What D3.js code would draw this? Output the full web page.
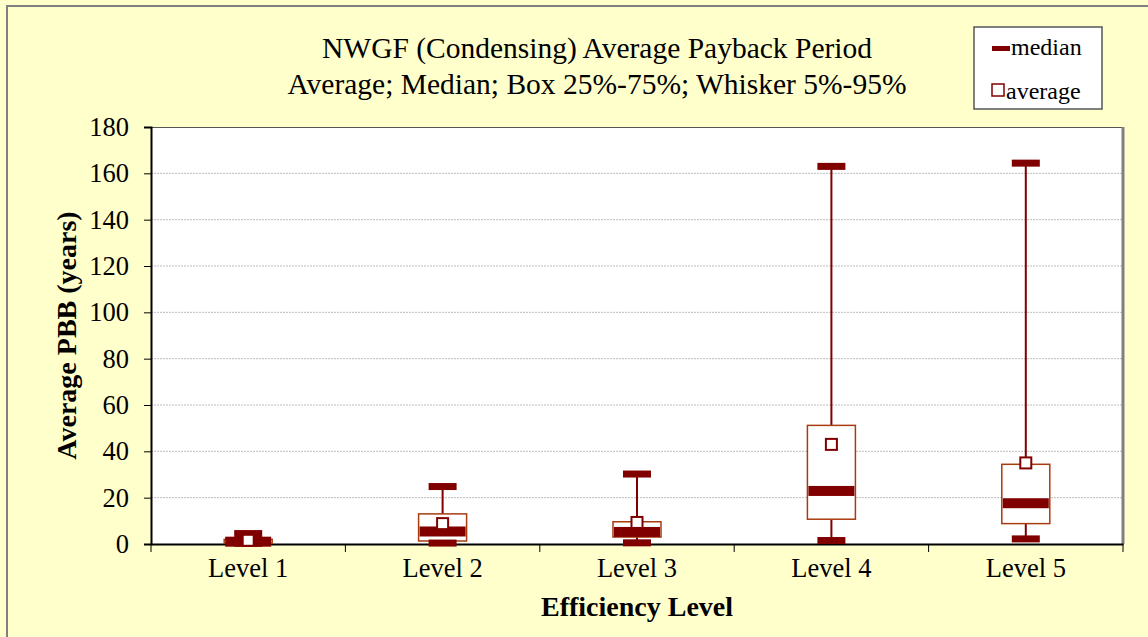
<!DOCTYPE html>
<html lang="en">
<head>
<meta charset="utf-8">
<title>NWGF (Condensing) Average Payback Period</title>
<style>
  body { margin: 0; background: #FFFFCC; }
  text { font-family: "Liberation Serif", "Times New Roman", serif; fill: #000; }
  .title { font-size: 29.5px; text-anchor: middle; }
  .axis-title { font-size: 28px; font-weight: bold; text-anchor: middle; }
  .axis text { font-size: 26.5px; }
  .axis path, .axis line { stroke: #000; }
  .grid line { stroke: #bdbdbd; stroke-dasharray: 2,1; }
  .legend text { font-size: 24px; }
</style>
</head>
<body>
<div id="chart"></div>
<script src="https://cdn.jsdelivr.net/npm/d3@7"></script>
<script>

var levels = ["Level 1", "Level 2", "Level 3", "Level 4", "Level 5"];
var p5     = [0.3, 0.4, 0.5, 1.5, 2.2];
var p25    = [0.3, 1.3, 3.0, 10.7, 8.8];
var median = [1.0, 5.4, 5.2, 22.9, 17.6];
var p75    = [2.0, 13.0, 9.6, 51.2, 34.4];
var p95    = [4.5, 24.8, 30.2, 163.0, 164.4];
var avg    = [1.6, 8.8, 9.3, 43.0, 35.0];
var yTicks = [0, 20, 40, 60, 80, 100, 120, 140, 160, 180];

var W = 1148, H = 637,
    margin = {top: 127, right: 25, bottom: 93, left: 151},
    width = W - margin.left - margin.right,
    height = H - margin.top - margin.bottom;

var darkRed = "#800000", boxStroke = "#A83C10";

var svg = d3.select("#chart").append("svg")
    .attr("width", W).attr("height", H);

// outer frame
svg.append("rect")
   .attr("x", 7).attr("y", 6)
   .attr("width", W + 20).attr("height", H + 20)
   .attr("fill", "#FFFFCC")
   .attr("stroke", "#808080").attr("stroke-width", 2);

var plt = svg.append("g").attr("transform", "translate(" + margin.left + "," + margin.top + ")");

var x = d3.scaleBand().domain(levels).range([0, width]);
var y = d3.scaleLinear().domain([0, 180]).range([height, 0]);

// plot area
plt.append("rect")
   .attr("width", width).attr("height", height)
   .attr("fill", "#fff");

plt.append("g")
   .attr("class", "grid")
   .selectAll("line")
   .data(yTicks.filter(function(d){ return d > 0 && d < 180; }))
   .enter().append("line")
   .attr("x1", 0).attr("x2", width)
   .attr("y1", function(d){ return y(d); })
   .attr("y2", function(d){ return y(d); });

// border: top thin, right shadowed
plt.append("line").attr("x1", 0).attr("x2", width).attr("y1", 0.5).attr("y2", 0.5)
   .attr("stroke", "#555").attr("stroke-width", 1);
plt.append("line").attr("x1", width).attr("x2", width).attr("y1", 0).attr("y2", height)
   .attr("stroke", "#808080").attr("stroke-width", 3);

var yAxis = d3.axisLeft(y).tickValues(yTicks).tickSize(7).tickPadding(15);
var gy = plt.append("g").attr("class", "axis").call(yAxis);
gy.select(".domain").attr("stroke", "#555").attr("stroke-width", 2);

var xAxis = d3.axisBottom(x).tickSize(0).tickPadding(14);
var gx = plt.append("g").attr("class", "axis")
   .attr("transform", "translate(0," + height + ")").call(xAxis);
gx.select(".domain").attr("stroke", "#555").attr("stroke-width", 2);

// x ticks at category boundaries
gx.selectAll(".bound")
  .data(levels)
  .enter().append("line")
  .attr("class", "bound")
  .attr("x1", function(d){ return x(d); })
  .attr("x2", function(d){ return x(d); })
  .attr("y1", 0).attr("y2", 8)
  .attr("stroke", "#000");
gx.append("line").attr("x1", width).attr("x2", width).attr("y1", 0).attr("y2", 8).attr("stroke", "#808080");

var boxW = 48, capW = 28, capH = 7, medH = 10, sq = 11;
var cx = function(i){ return x(levels[i]) + x.bandwidth() / 2; };

var g = plt.selectAll("g.box")
    .data(levels)
    .enter().append("g")
    .attr("class", "box");

// whisker
g.append("line")
 .attr("x1", function(d, i){ return cx(i); })
 .attr("x2", function(d, i){ return cx(i); })
 .attr("y1", function(d, i){ return y(p5[i]); })
 .attr("y2", function(d, i){ return y(p95[i]); })
 .attr("stroke", darkRed).attr("stroke-width", 2);

// box
g.append("rect")
 .attr("x", function(d, i){ return cx(i) - boxW / 2; })
 .attr("width", boxW)
 .attr("y", function(d, i){ return y(p75[i]); })
 .attr("height", function(d, i){ return y(p25[i]) - y(p75[i]); })
 .attr("fill", "#fff")
 .attr("stroke", boxStroke).attr("stroke-width", 1.5);

// caps
[p5, p95].forEach(function(arr){
  g.append("rect")
   .attr("x", function(d, i){ return cx(i) - capW / 2; })
   .attr("width", capW)
   .attr("y", function(d, i){ return y(arr[i]) - capH / 2; })
   .attr("height", capH)
   .attr("fill", darkRed);
});

// median
g.append("rect")
 .attr("x", function(d, i){ return cx(i) - boxW / 2 + 1; })
 .attr("width", boxW - 2)
 .attr("y", function(d, i){ return y(median[i]) - medH / 2; })
 .attr("height", medH)
 .attr("fill", darkRed);

// average
g.append("rect")
 .attr("x", function(d, i){ return cx(i) - sq / 2; })
 .attr("y", function(d, i){ return y(avg[i]) - sq / 2; })
 .attr("width", sq).attr("height", sq)
 .attr("fill", "#fff")
 .attr("stroke", darkRed).attr("stroke-width", 2);

// titles
svg.append("text").attr("class", "title").attr("x", 597).attr("y", 58)
   .text("NWGF (Condensing) Average Payback Period");
svg.append("text").attr("class", "title").attr("x", 597).attr("y", 94)
   .text("Average; Median; Box 25%-75%; Whisker 5%-95%");

svg.append("text").attr("class", "axis-title")
   .attr("x", margin.left + width / 2).attr("y", 616)
   .text("Efficiency Level");

svg.append("text").attr("class", "axis-title")
   .attr("transform", "translate(76," + (margin.top + height / 2) + ") rotate(-90)")
   .text("Average PBB (years)");

// legend
var lg = svg.append("g").attr("class", "legend").attr("transform", "translate(974,27)");
lg.append("rect").attr("width", 128).attr("height", 82)
  .attr("fill", "#fff").attr("stroke", "#555").attr("stroke-width", 1.5);
lg.append("rect").attr("x", 18).attr("y", 19).attr("width", 18).attr("height", 5).attr("fill", darkRed);
lg.append("text").attr("x", 37).attr("y", 28).text("median");
lg.append("rect").attr("x", 18).attr("y", 57).attr("width", 12).attr("height", 12)
  .attr("fill", "#fff").attr("stroke", darkRed).attr("stroke-width", 1.5);
lg.append("text").attr("x", 32).attr("y", 72).text("average");

</script>
</body>
</html>
